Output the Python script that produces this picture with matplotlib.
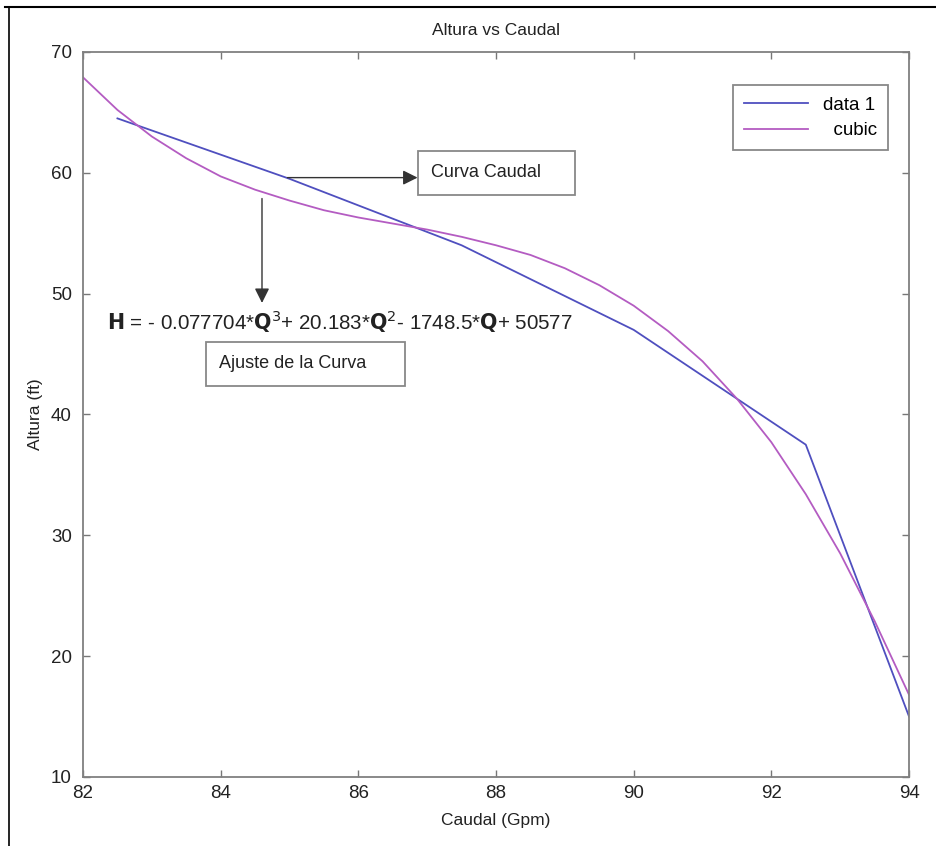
import numpy as np
import matplotlib.pyplot as plt
from matplotlib.lines import Line2D

# measured pump data (data 1)
caudal = [82.5, 85.0, 87.5, 90.0, 92.5, 94.0]
altura = [64.5, 59.5, 54.0, 47.0, 37.5, 15.0]

# cubic fit curve
q_fit = [82.0, 82.5, 83.0, 83.5, 84.0, 84.5, 85.0, 85.5, 86.0, 86.5, 87.0, 87.5,
         88.0, 88.5, 89.0, 89.5, 90.0, 90.5, 91.0, 91.5, 92.0, 92.5, 93.0, 93.5, 94.0]
h_fit = [67.9, 65.2, 63.0, 61.2, 59.7, 58.6, 57.7, 56.9, 56.3, 55.8, 55.3, 54.7,
         54.0, 53.2, 52.1, 50.7, 49.0, 46.9, 44.4, 41.3, 37.7, 33.4, 28.5, 22.9, 16.8]

xticks = [82, 84, 86, 88, 90, 92, 94]
yticks = [10, 20, 30, 40, 50, 60, 70]

plt.rcParams['font.family'] = ['Liberation Sans', 'DejaVu Sans']

fig = plt.figure(figsize=(9.36, 8.46), dpi=100)
ax = fig.add_axes([0.0887, 0.0816, 0.8825, 0.857])

ax.plot(caudal, altura, color='#4f4fbf', lw=1.3, label='data 1')
ax.plot(q_fit, h_fit, color='#b45cc2', lw=1.3, label='  cubic')

ax.set_xlim(82, 94)
ax.set_ylim(10, 70)
ax.set_xticks(xticks)
ax.set_yticks(yticks)
ax.tick_params(direction='in', top=True, right=True, length=5, width=1,
               color='#777777', labelsize=13.5, labelcolor='#222222')
ax.tick_params(axis='y', pad=8)
ax.tick_params(axis='x', pad=6)
for s in ax.spines.values():
    s.set_color('#808080')
    s.set_linewidth(1.3)

ax.set_title('Altura vs Caudal', fontsize=12.5, color='#222222', pad=12)
ax.set_xlabel('Caudal (Gpm)', fontsize=12.5, color='#222222', labelpad=8)
ax.set_ylabel('Altura (ft)', fontsize=12.5, color='#222222', labelpad=6)

leg = ax.legend(loc='upper right', bbox_to_anchor=(0.986, 0.967), fontsize=13.5,
                handlelength=3.4, fancybox=False, framealpha=1,
                edgecolor='#888888', borderpad=0.6, labelspacing=0.45)
leg.get_frame().set_linewidth(1.3)

# annotations
ax.annotate('', xy=(86.9, 59.6), xytext=(84.93, 59.6),
            arrowprops=dict(arrowstyle='-|>', color='#333333', lw=1, mutation_scale=22))
ax.annotate('', xy=(84.6, 49.0), xytext=(84.6, 58.1),
            arrowprops=dict(arrowstyle='-|>', color='#333333', lw=1, mutation_scale=22))

box = dict(boxstyle='square,pad=0.75', fc='white', ec='#888888', lw=1.3)
ax.text(87.06, 60.0, 'Curva Caudal    ', fontsize=13, color='#222222',
        va='center', ha='left', bbox=box)
ax.text(83.98, 44.2, 'Ajuste de la Curva     ', fontsize=13, color='#222222',
        va='center', ha='left', bbox=box)

ax.text(82.35, 47.0,
        r'$\mathbf{H}$ = - 0.077704*$\mathbf{Q}^3$+ 20.183*$\mathbf{Q}^2$- 1748.5*$\mathbf{Q}$+ 50577',
        fontsize=14.8, color='#222222', va='baseline', ha='left')

# frame lines at the top and left edge of the picture
fig.add_artist(Line2D([5 / 936, 1.0], [1 - 7 / 846, 1 - 7 / 846], color='black', lw=1.5,
                      transform=fig.transFigure))
fig.add_artist(Line2D([9 / 936, 9 / 936], [0.0, 1 - 7 / 846], color='black', lw=1.2,
                      transform=fig.transFigure))

fig.savefig('out.png', dpi=100)
